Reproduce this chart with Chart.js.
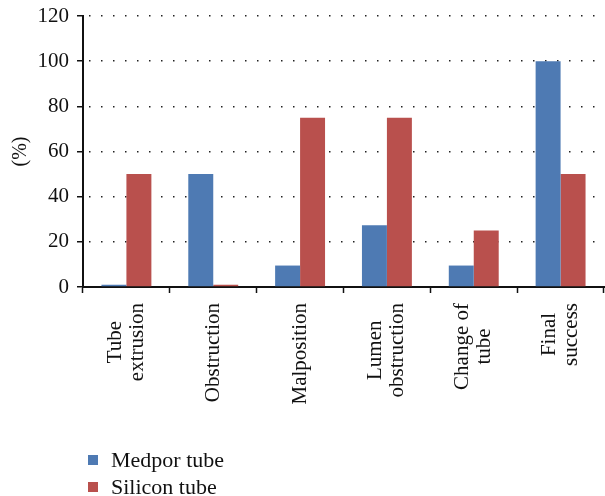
<!DOCTYPE html>
<html>
<head>
<meta charset="utf-8">
<script src="https://cdn.jsdelivr.net/npm/chart.js@4/dist/chart.umd.min.js"></script>
<style>
  html, body { margin: 0; padding: 0; background: #fff; }
  #wrap { position: relative; width: 605px; height: 496px; }
  #legend { position: absolute; left: 88px; top: 446px; font-family: "Liberation Serif", serif; font-size: 22px; color: #111; }
  .item { display: flex; align-items: center; height: 27px; }
  .sw { width: 10px; height: 10px; margin-right: 13px; }
</style>
</head>
<body>
<div id="wrap">
  <canvas id="c" width="605" height="496"></canvas>
  <div id="legend"></div>
</div>
<script>
// Outcome categories (multi-line labels)
const categories = [
  ["Tube", "extrusion"],
  ["Obstruction"],
  ["Malposition"],
  ["Lumen", "obstruction"],
  ["Change of", "tube"],
  ["Final", "success"]
];
// Percentages per tube type
const medporValues = [1, 50, 9.5, 27.3, 9.5, 100];
const siliconValues = [50, 1, 75, 75, 25, 50];
const seriesNames = ["Medpor tube", "Silicon tube"];
const seriesColors = ["#4E7AB3", "#B9504D"];
const yTicks = [0, 20, 40, 60, 80, 100, 120];

const FONT = '"Liberation Serif", "Times New Roman", serif';

// Rotated, centre-aligned multi-line category labels under the x axis
const xLabelPlugin = {
  id: 'xLabels',
  afterDraw(chart) {
    const x = chart.scales.x;
    const ctx = chart.ctx;
    ctx.save();
    ctx.font = '21px ' + FONT;
    ctx.fillStyle = '#111';
    ctx.textAlign = 'center';
    ctx.textBaseline = 'middle';
    const top = x.top + 16;
    const lineGap = 22;
    categories.forEach((lines, i) => {
      const cx = x.getPixelForTick(i);
      const maxW = Math.max(...lines.map(l => ctx.measureText(l).width));
      const cy = top + maxW / 2;
      lines.forEach((line, j) => {
        const off = (j - (lines.length - 1) / 2) * lineGap;
        ctx.save();
        ctx.translate(cx + off, cy);
        ctx.rotate(-Math.PI / 2);
        ctx.fillText(line, 0, 0);
        ctx.restore();
      });
    });
    ctx.restore();
  }
};

new Chart(document.getElementById('c'), {
  type: 'bar',
  data: {
    labels: categories,
    datasets: [
      { label: seriesNames[0], data: medporValues, backgroundColor: seriesColors[0] },
      { label: seriesNames[1], data: siliconValues, backgroundColor: seriesColors[1] }
    ]
  },
  options: {
    responsive: false,
    animation: false,
    devicePixelRatio: 1,
    layout: { padding: { top: 16, right: 1, left: 0, bottom: 0 } },
    datasets: { bar: { categoryPercentage: 0.575, barPercentage: 1.0 } },
    plugins: { legend: { display: false }, tooltip: { enabled: false } },
    scales: {
      x: {
        offset: true,
        grid: {
          offset: true,
          drawOnChartArea: false,
          drawTicks: true,
          tickLength: 6,
          tickColor: '#111',
          tickWidth: 1.5
        },
        border: { display: true, color: '#111', width: 2 },
        ticks: { display: false },
        afterFit(scale) { scale.height = 209; }
      },
      y: {
        min: 0,
        max: 120,
        afterBuildTicks(scale) { scale.ticks = yTicks.map(v => ({ value: v })); },
        grid: {
          color: '#222',
          lineWidth: 1.5,
          drawTicks: true,
          tickLength: 6,
          tickColor: '#111',
          tickWidth: 1.5,
          tickBorderDash: []
        },
        border: { display: true, color: '#111', width: 2, dash: [1.5, 10.5], dashOffset: -5 },
        ticks: {
          color: '#111',
          font: { family: FONT, size: 21 },
          padding: 8
        },
        title: {
          display: true,
          text: '(%)',
          color: '#111',
          font: { family: FONT, size: 20 },
          padding: { top: 9, bottom: 4 }
        },
        afterFit(scale) {
          scale.width = 83;
          scale.paddingTop = 0;
          scale.paddingBottom = 0;
        }
      }
    }
  },
  plugins: [xLabelPlugin]
});

// Vertical legend below the chart
const legend = document.getElementById('legend');
seriesNames.forEach((name, i) => {
  const item = document.createElement('div');
  item.className = 'item';
  const sw = document.createElement('div');
  sw.className = 'sw';
  sw.style.background = seriesColors[i];
  const label = document.createElement('span');
  label.textContent = name;
  item.appendChild(sw);
  item.appendChild(label);
  legend.appendChild(item);
});
</script>
</body>
</html>
